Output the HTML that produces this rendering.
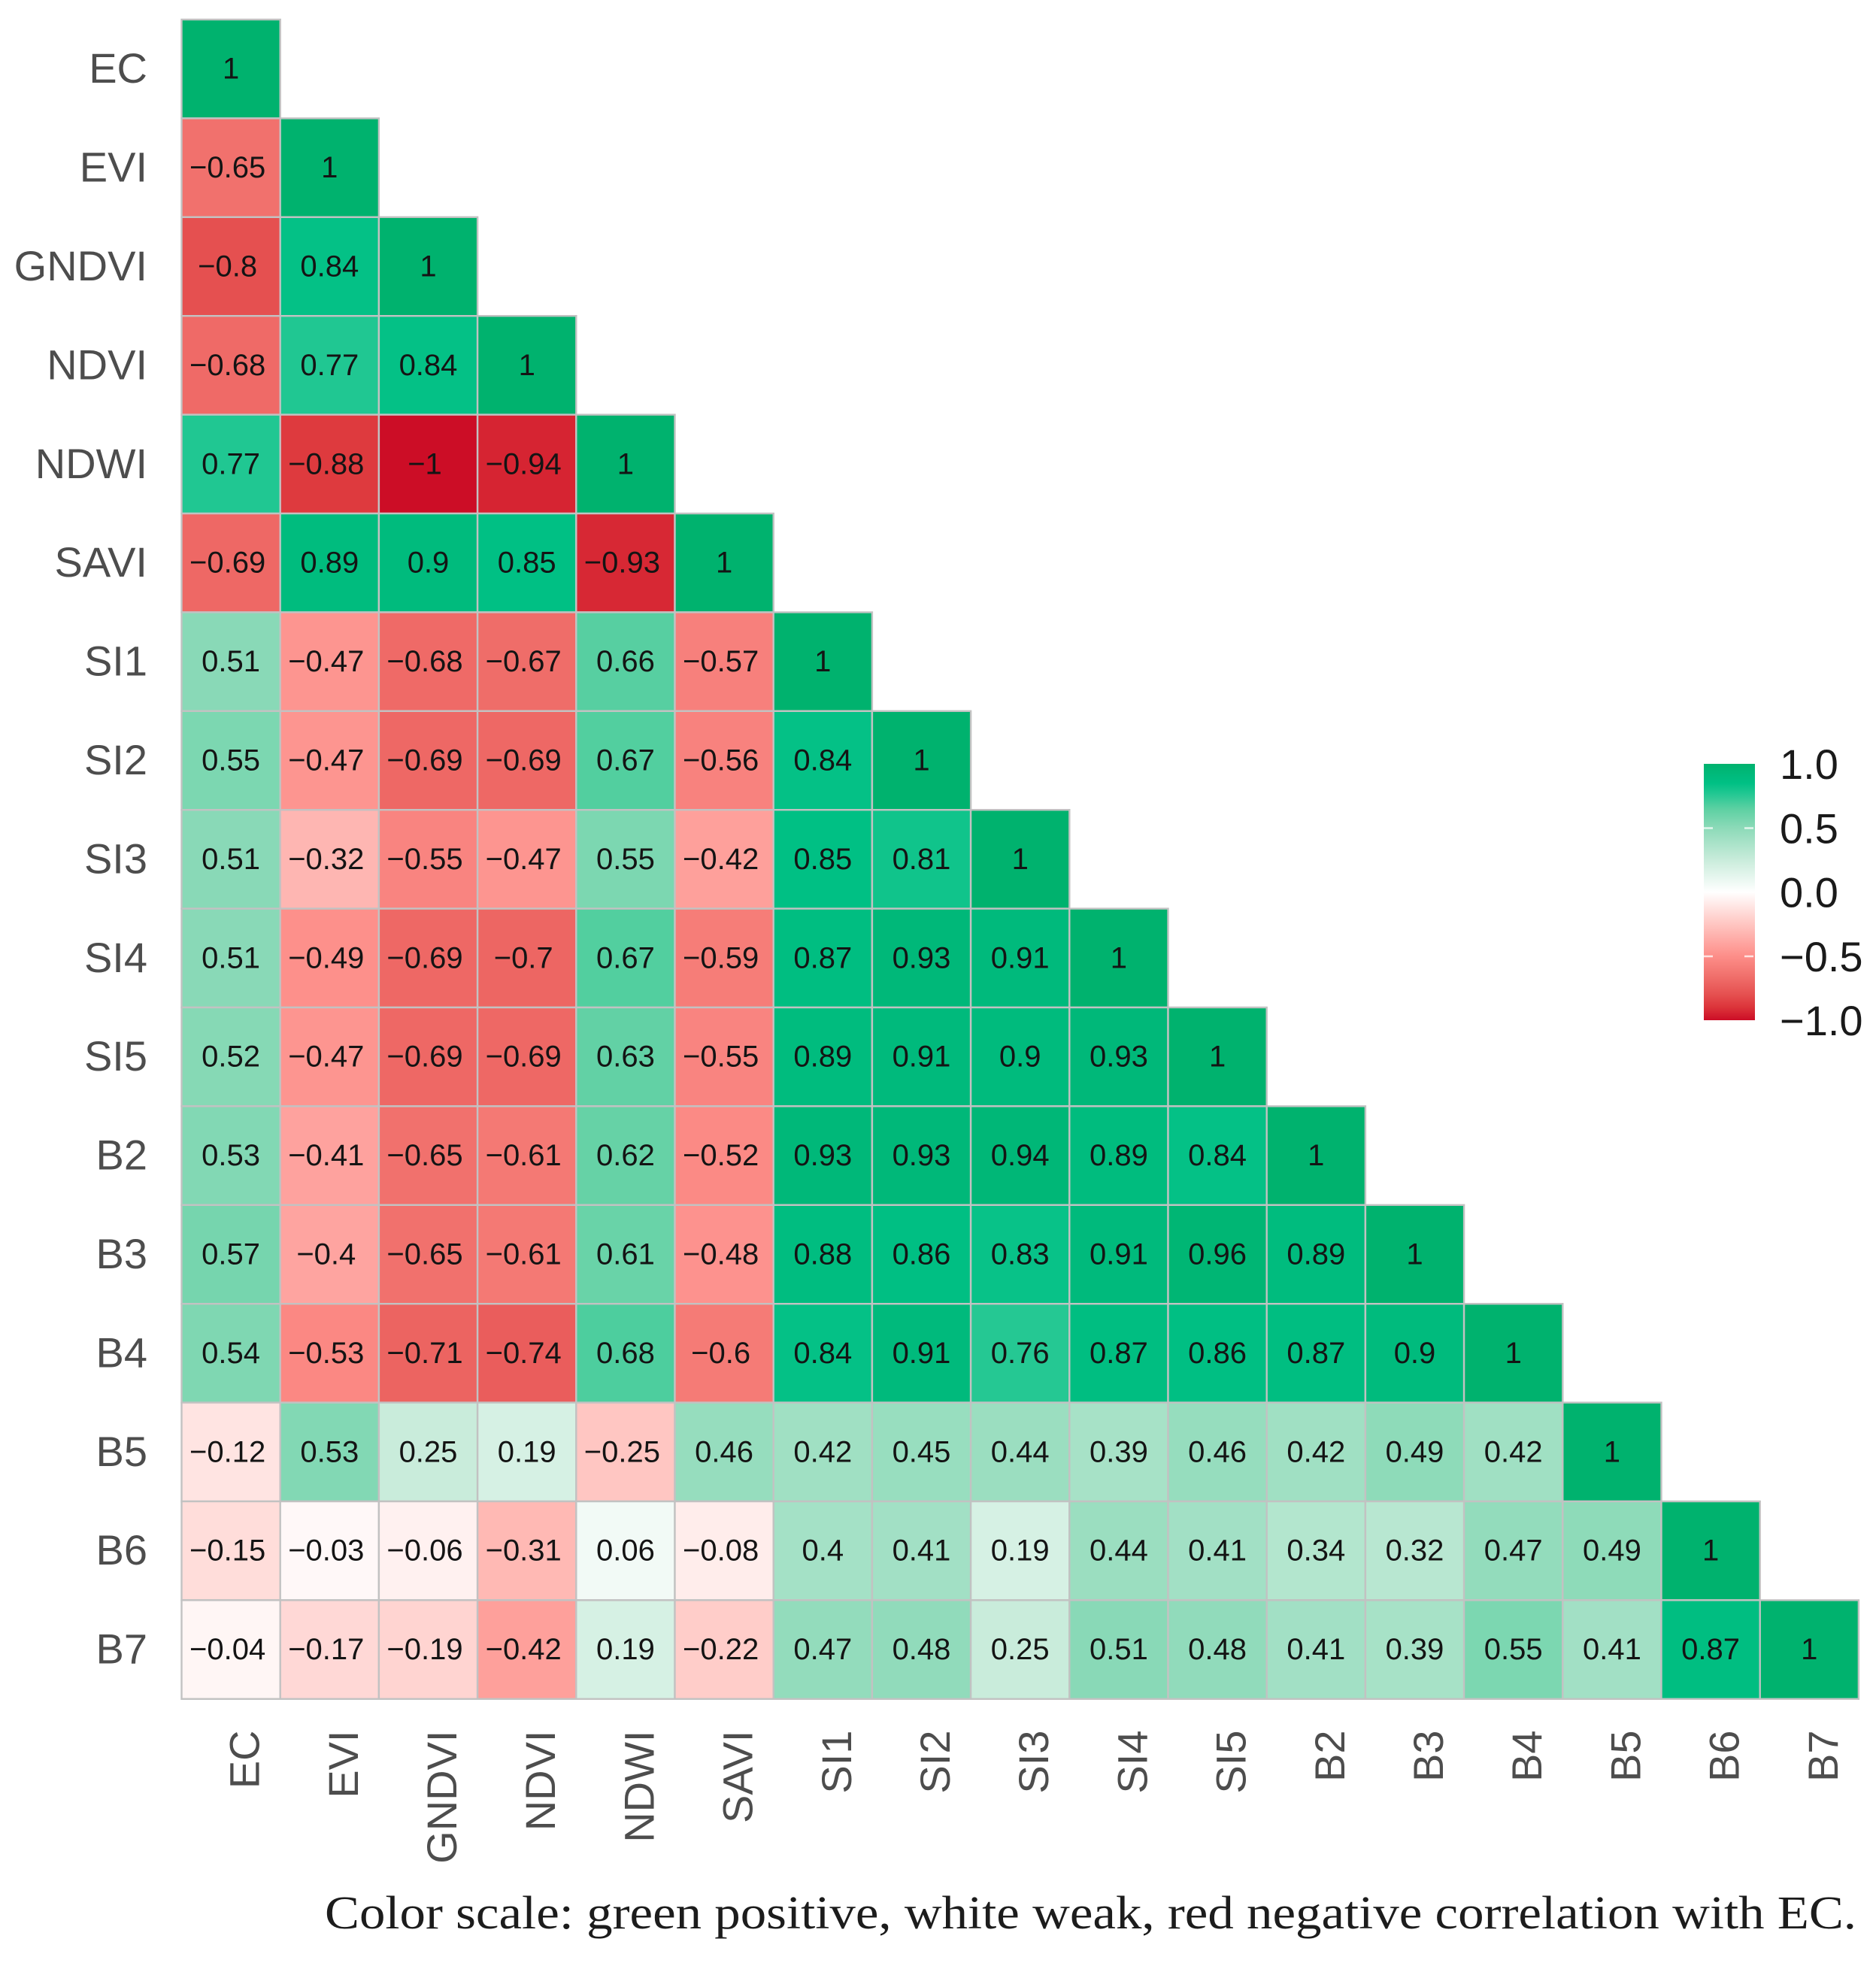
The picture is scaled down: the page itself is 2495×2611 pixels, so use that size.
<!DOCTYPE html>
<html lang="en">
<head>
<meta charset="utf-8">
<title>Correlation heatmap</title>
<style>
  html, body { margin: 0; padding: 0; background: #fff; }
  svg { display: block; }
  text { font-family: "Liberation Sans", Arial, sans-serif; }
</style>
</head>
<body>
<svg id="chart" xmlns="http://www.w3.org/2000/svg" width="2495" height="2611" viewBox="0 0 2495 2611">
  <rect x="0" y="0" width="2495" height="2611" fill="#ffffff"/>
  <defs>
    <linearGradient id="legendGradient" x1="0" y1="0" x2="0" y2="1"></linearGradient>
  </defs>
  <g id="cells"></g>
  <g id="values"></g>
  <g id="yLabels"></g>
  <g id="xLabels"></g>
  <g id="legend"></g>
  <text x="432" y="2565" textLength="2037" lengthAdjust="spacingAndGlyphs" style="font-family:'Liberation Serif',serif;font-size:62px;fill:#1c1c1c;">Color scale: green positive, white weak, red negative correlation with EC.</text>
</svg>
<script>
const variables = ["EC","EVI","GNDVI","NDVI","NDWI","SAVI","SI1","SI2","SI3","SI4","SI5","B2","B3","B4","B5","B6","B7"];
const rowEC = [1];
const rowEVI = [-0.65,1];
const rowGNDVI = [-0.8,0.84,1];
const rowNDVI = [-0.68,0.77,0.84,1];
const rowNDWI = [0.77,-0.88,-1,-0.94,1];
const rowSAVI = [-0.69,0.89,0.9,0.85,-0.93,1];
const rowSI1 = [0.51,-0.47,-0.68,-0.67,0.66,-0.57,1];
const rowSI2 = [0.55,-0.47,-0.69,-0.69,0.67,-0.56,0.84,1];
const rowSI3 = [0.51,-0.32,-0.55,-0.47,0.55,-0.42,0.85,0.81,1];
const rowSI4 = [0.51,-0.49,-0.69,-0.7,0.67,-0.59,0.87,0.93,0.91,1];
const rowSI5 = [0.52,-0.47,-0.69,-0.69,0.63,-0.55,0.89,0.91,0.9,0.93,1];
const rowB2 = [0.53,-0.41,-0.65,-0.61,0.62,-0.52,0.93,0.93,0.94,0.89,0.84,1];
const rowB3 = [0.57,-0.4,-0.65,-0.61,0.61,-0.48,0.88,0.86,0.83,0.91,0.96,0.89,1];
const rowB4 = [0.54,-0.53,-0.71,-0.74,0.68,-0.6,0.84,0.91,0.76,0.87,0.86,0.87,0.9,1];
const rowB5 = [-0.12,0.53,0.25,0.19,-0.25,0.46,0.42,0.45,0.44,0.39,0.46,0.42,0.49,0.42,1];
const rowB6 = [-0.15,-0.03,-0.06,-0.31,0.06,-0.08,0.4,0.41,0.19,0.44,0.41,0.34,0.32,0.47,0.49,1];
const rowB7 = [-0.04,-0.17,-0.19,-0.42,0.19,-0.22,0.47,0.48,0.25,0.51,0.48,0.41,0.39,0.55,0.41,0.87,1];
const correlationRows = [rowEC,rowEVI,rowGNDVI,rowNDVI,rowNDWI,rowSAVI,rowSI1,rowSI2,rowSI3,rowSI4,rowSI5,rowB2,rowB3,rowB4,rowB5,rowB6,rowB7];
const legendTicks = [1,0.5,0,-0.5,-1];
const colorDomain = [-1,-0.9,-0.8,-0.65,-0.5,-0.25,0,0.25,0.5,0.65,0.77,0.85,0.9,1];
const colorRange = ["#cc0d26","#dc343a","#e55050","#f1716d","#fd8e89","#ffc6c2","#ffffff","#c9ecdb","#8cdab8","#5cd0a2","#20c792","#00c084","#00bb7d","#00b26e"];

const NS = "http://www.w3.org/2000/svg";
const gridLeft = 241.5, gridTop = 26, cellW = 131.2, cellH = 131.4;
const legendX = 2266, legendW = 68, legendTop = 1016, legendBottom = 1357;

function xScale(i) { return gridLeft + i * cellW; }
function yScale(i) { return gridTop + i * cellH; }
function legendY(v) { return legendTop + (1 - v) / 2 * (legendBottom - legendTop); }
function hexToRgb(h) { return [1,3,5].map(function (p) { return parseInt(h.substr(p,2),16); }); }
function colorScale(v) {
  const c = Math.max(-1, Math.min(1, v));
  let k = 0;
  while (k < colorDomain.length - 2 && c > colorDomain[k + 1]) k++;
  const t = (c - colorDomain[k]) / (colorDomain[k + 1] - colorDomain[k]);
  const a = hexToRgb(colorRange[k]), b = hexToRgb(colorRange[k + 1]);
  return "rgb(" + a.map(function (x, n) { return Math.round(x + (b[n] - x) * t); }).join(",") + ")";
}
function fmt(v) { return (v < 0 ? "\u2212" : "") + String(Math.abs(v)); }
function fmtTick(v) { return (v < 0 ? "\u2212" : "") + Math.abs(v).toFixed(1); }
function make(tag, attrs, text) {
  const el = document.createElementNS(NS, tag);
  Object.keys(attrs).forEach(function (k) { el.setAttribute(k, attrs[k]); });
  if (text !== undefined) el.textContent = text;
  return el;
}

const cellsG = document.getElementById("cells");
const valuesG = document.getElementById("values");
const yG = document.getElementById("yLabels");
const xG = document.getElementById("xLabels");
const legendG = document.getElementById("legend");

correlationRows.forEach(function (row, r) {
  row.forEach(function (v, c) {
    const rect = make("rect", { x: xScale(c), y: yScale(r), width: cellW, height: cellH, fill: colorScale(v), stroke: "#c2c2c2", "stroke-width": 2.4 });
    
    
    cellsG.appendChild(rect);
    const shift = v < 0 ? -4.5 : 0;
    const label = make("text", { x: xScale(c) + cellW / 2 + shift, y: yScale(r) + cellH / 2 + 13, "text-anchor": "middle", "font-size": 40, fill: "#141414" }, fmt(v));
    
    
    valuesG.appendChild(label);
  });
});

variables.forEach(function (name, i) {
  const yl = make("text", { x: 196, y: yScale(i) + cellH / 2 + 18.5, "text-anchor": "end", "font-size": 56, fill: "#4d4d4d" }, name);
  
  
  yG.appendChild(yl);
  const bx = xScale(i) + cellW / 2 + 37.5, by = 2301.5;
  const xl = make("text", { x: bx, y: by, "text-anchor": "end", "font-size": 56, fill: "#4d4d4d", transform: "rotate(-90 " + bx + " " + by + ")" }, name);
  
  
  xG.appendChild(xl);
});

const grad = document.getElementById("legendGradient");
for (let i = colorDomain.length - 1; i >= 0; i--) {
  const stop = make("stop", { offset: (1 - colorDomain[i]) / 2, "stop-color": colorRange[i] });
  grad.appendChild(stop);
}
const bar = make("rect", { x: legendX, y: legendTop, width: legendW, height: legendBottom - legendTop, fill: "url(#legendGradient)" });


legendG.appendChild(bar);

legendTicks.forEach(function (t) {
  const y = legendY(t);
  if (Math.abs(t) === 0.5) {
    const tl = make("rect", { x: legendX, y: y - 1, width: 12, height: 2.5, fill: "#ffffff", opacity: 0.75 });
    
    
    legendG.appendChild(tl);
    const tr = make("rect", { x: legendX + legendW - 14, y: y - 1, width: 12, height: 2.5, fill: "#ffffff", opacity: 0.75 });
    
    
    legendG.appendChild(tr);
  }
  const lab = make("text", { x: 2367, y: y + 20, "font-size": 56, fill: "#1a1a1a" }, fmtTick(t));
  
  
  legendG.appendChild(lab);
});
</script>
</body>
</html>
